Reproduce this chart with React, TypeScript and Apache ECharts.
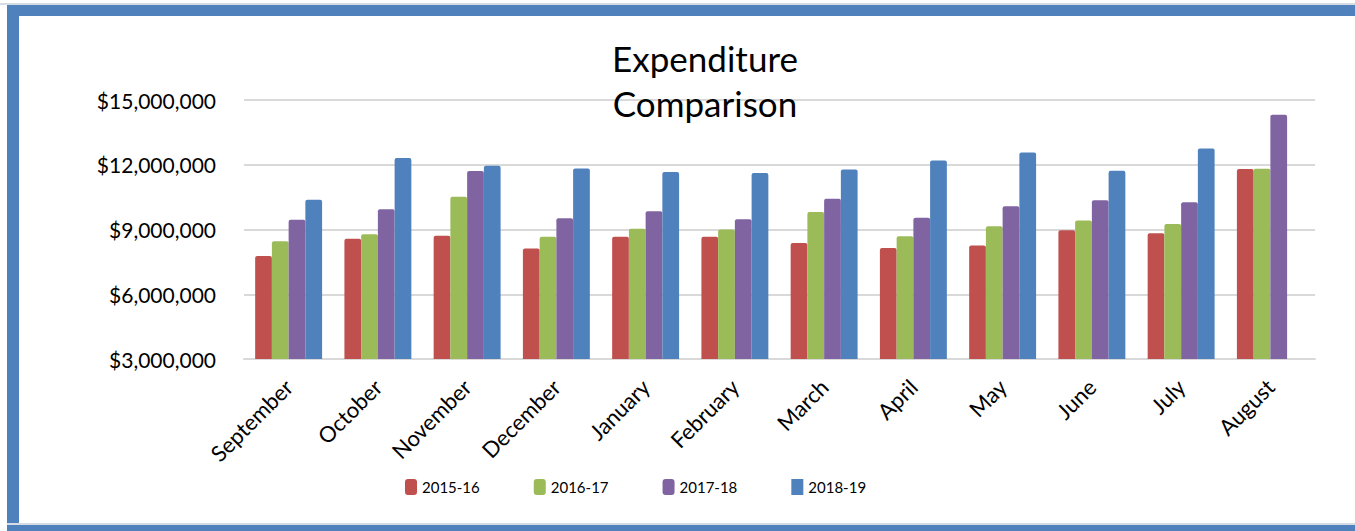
import React, { useEffect, useRef } from "react";
import * as echarts from "echarts";

const months = ["September", "October", "November", "December", "January", "February", "March", "April", "May", "June", "July", "August"];
const fy1516 = [7770000, 8570000, 8710000, 8120000, 8660000, 8660000, 8380000, 8140000, 8260000, 8970000, 8830000, 11800000];
const fy1617 = [8460000, 8780000, 10520000, 8660000, 9030000, 9000000, 9810000, 8690000, 9150000, 9420000, 9260000, 11820000];
const fy1718 = [9450000, 9940000, 11710000, 9520000, 9850000, 9480000, 10430000, 9540000, 10080000, 10350000, 10260000, 14320000];
const fy1819 = [10380000, 12310000, 11950000, 11830000, 11660000, 11620000, 11780000, 12200000, 12570000, 11720000, 12750000, null];
const seriesNames = ["2015-16", "2016-17", "2017-18", "2018-19"];
const colors = ["#C0504D", "#9BBB59", "#8064A2", "#4F81BD"];
const FONT = "Lato, 'Noto Sans', sans-serif";

export default function App() {
  const ref = useRef<HTMLDivElement>(null);
  useEffect(() => {
    const chart = echarts.init(ref.current!, null, { renderer: "svg" });
    const data = [fy1516, fy1617, fy1718, fy1819];
    chart.setOption({
      animation: false,
      backgroundColor: "#ffffff",
      title: {
        text: "Expenditure\nComparison",
        left: 700,
        textAlign: "center",
        top: 30,
        textStyle: { fontFamily: FONT, fontSize: 35, fontWeight: "normal", color: "#000", lineHeight: 45 },
      },
      legend: {
        data: seriesNames.map((n, i) => ({ name: n, icon: i === 3 ? "rect" : "roundRect" })),
        left: 405,
        top: 479,
        itemWidth: 12,
        itemHeight: 16,
        itemGap: 54,
        padding: 0,
        textStyle: { fontFamily: FONT, fontSize: 15, color: "#000" },
      },
      grid: { left: 244, right: 40, top: 100, bottom: 172, containLabel: false },
      xAxis: {
        type: "category",
        data: months,
        axisLine: { show: true, lineStyle: { color: "#d9d9d9", width: 2 } },
        axisTick: { show: false },
        axisLabel: { rotate: 45, margin: 24, fontFamily: FONT, fontSize: 22, color: "#000", interval: 0 },
      },
      yAxis: {
        type: "value",
        min: 3000000,
        max: 15000000,
        interval: 3000000,
        axisLine: { show: false },
        axisTick: { show: false },
        splitLine: { lineStyle: { color: "#d9d9d9", width: 2 } },
        axisLabel: {
          margin: 28,
          fontFamily: FONT,
          fontSize: 21,
          color: "#000",
          formatter: (v: number) => "$" + v.toLocaleString("en-US"),
        },
      },
      series: seriesNames.map((n, i) => ({
        name: n,
        type: "bar",
        data: data[i],
        barGap: "0%",
        barCategoryGap: "25%",
        itemStyle: { color: colors[i], borderRadius: [2, 2, 0, 0] },
      })),
      graphic: [
        { type: "rect", shape: { x: 0, y: 3, width: 1355, height: 2 }, style: { fill: "#d6dce4" }, silent: true },
        { type: "rect", shape: { x: 7, y: 5, width: 1348, height: 11 }, style: { fill: "#4F81BD" }, silent: true },
        { type: "rect", shape: { x: 7, y: 5, width: 12, height: 526 }, style: { fill: "#4F81BD" }, silent: true },
        { type: "rect", shape: { x: 7, y: 523, width: 1348, height: 2 }, style: { fill: "#d6dce4" }, silent: true },
        { type: "rect", shape: { x: 7, y: 525, width: 1348, height: 6 }, style: { fill: "#4F81BD" }, silent: true },
      ],
    });
    return () => chart.dispose();
  }, []);
  return <div ref={ref} style={{ position: "absolute", left: 0, top: 0, width: 1355, height: 531 }} />;
}
